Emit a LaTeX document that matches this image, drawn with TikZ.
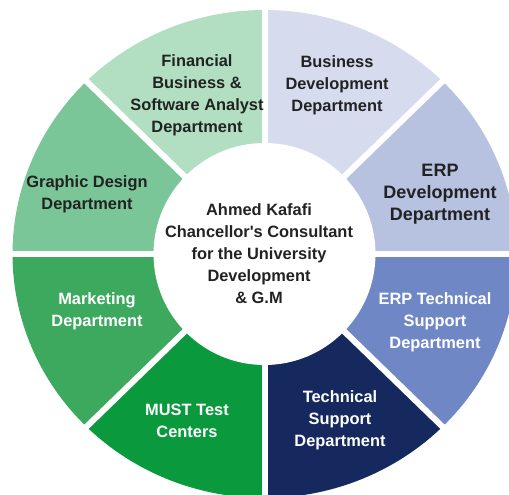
\documentclass[tikz,border=0pt]{standalone}
\usepackage{fontspec}
\setmainfont{Liberation Sans}
\usetikzlibrary{calc}

\definecolor{bizdev}{HTML}{D6DBEE}
\definecolor{erpdev}{HTML}{B7C2E1}
\definecolor{erptech}{HTML}{6F88C5}
\definecolor{techsup}{HTML}{15295E}
\definecolor{must}{HTML}{0A9A3D}
\definecolor{mkt}{HTML}{3DA95E}
\definecolor{graphic}{HTML}{7BC698}
\definecolor{fin}{HTML}{B2DFC1}
\definecolor{ink}{HTML}{222222}

\tikzset{
	dept/.style={align=center, text=ink, font=\fontsize{16.4}{22}\selectfont\bfseries},
	deptw/.style={dept, text=white},
	gap/.style={white, line width=6pt},
}

\begin{document}
\begin{tikzpicture}[x=1pt, y=1pt] % one unit per pixel
	% Canvas of the original size
	\useasboundingbox (0,0) rectangle (509,495);
	\clip (0,0) rectangle (509,495);
	\coordinate (O) at (264.5,241);
	
	% Coloured sectors of the ring
	\foreach \a/\c in {0/erpdev, 45/bizdev, 90/fin, 135/graphic, 180/mkt, 225/must, 270/techsup, 315/erptech}
	\fill[\c] (O) -- ($(O)+(\a:252 and 244)$) arc[start angle=\a, end angle=\a+45, x radius=252, y radius=244] -- cycle;
	
	% White gaps and the hole in the middle
	\foreach \a in {0,45,...,315}
	\draw[gap] (O) -- ($(O)+(\a:270 and 262)$);
	\fill[white] (O) circle[radius=111];
	
	% Department labels
	\node[dept] (finlbl) at (197,400) {Financial\\Business \&\\Software Analyst\\Department};
	\node[dept] (bizdevlbl) at (337,410) {Business\\Development\\Department};
	\node[dept, font=\fontsize{18}{22}\selectfont\bfseries] (erpdevlbl) at (440,301) {ERP\\Development\\Department};
	\node[deptw] (erptechlbl) at (435,173) {ERP Technical\\Support\\Department};
	\node[deptw] (techsuplbl) at (340,75) {Technical\\Support\\Department};
	\node[deptw] (mustlbl) at (187,74) {MUST Test\\Centers};
	\node[deptw] (mktlbl) at (97,184) {Marketing\\Department};
	\node[dept] (graphiclbl) at (87,301) {Graphic Design\\Department};
	
	% Head in the centre
	\node[dept] (head) at (259,241) {Ahmed Kafafi\\Chancellor\textquotesingle s Consultant\\for the University\\Development\\\& G.M};
\end{tikzpicture}
\end{document}
